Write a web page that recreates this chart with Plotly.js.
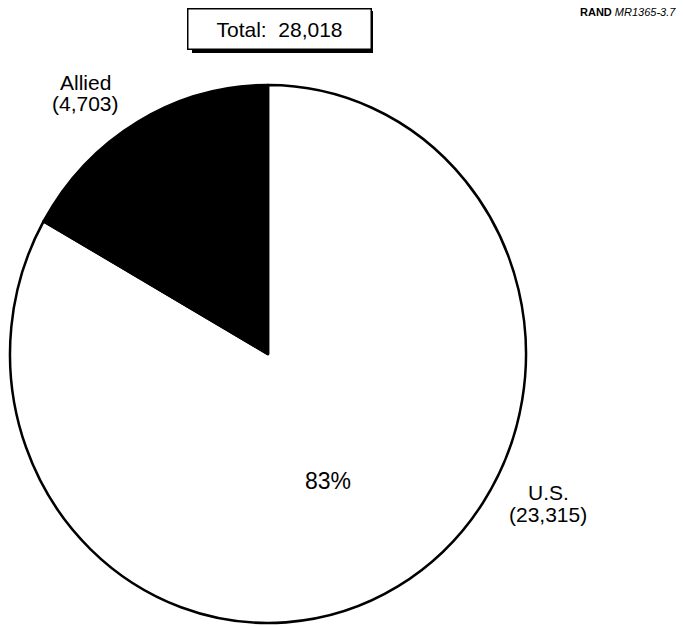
<!DOCTYPE html>
<html>
<head>
<meta charset="utf-8">
<script src="https://cdn.plot.ly/plotly-3.0.1.min.js"></script>
<style>
html,body{margin:0;padding:0;background:#fff;}
#chart{width:683px;height:626px;}
#chart .pielayer{transform:scaleY(1.0426);transform-origin:268px 354px;}
</style>
</head>
<body>
<div id="chart"></div>
<script>
const categories = ["U.S.", "Allied"];
const values = [23315, 4703];
const sliceColors = ["#ffffff", "#000000"];
const total = values.reduce((a, b) => a + b, 0);

const fmt = v => v.toLocaleString("en-US");
const pctUS = Math.round(values[0] / total * 100) + "%";

const W = 683, H = 626;
const cx = 268, cy = 354, r = 258;

const trace = {
  type: "pie",
  labels: categories,
  values: values,
  sort: false,
  direction: "clockwise",
  rotation: 0,
  marker: { colors: sliceColors, line: { color: "#000", width: 2.5 } },
  textinfo: "none",
  hoverinfo: "none",
  showlegend: false,
  domain: { x: [(cx - r) / W, (cx + r) / W], y: [1 - (cy + r) / H, 1 - (cy - r) / H] }
};

const font = "Liberation Sans, Arial, Helvetica, sans-serif";
function lbl(x, y, text, size) {
  return { xref: "paper", yref: "paper", x: x / W, y: 1 - y / H, xanchor: "center", yanchor: "middle",
    text: text, showarrow: false, font: { family: font, size: size, color: "#000" } };
}
const layout = {
  width: W, height: H,
  margin: { l: 0, r: 0, t: 0, b: 0 },
  paper_bgcolor: "#fff",
  plot_bgcolor: "#fff",
  showlegend: false,
  shapes: [
    { type: "rect", xref: "paper", yref: "paper",
      x0: 192 / W, x1: 373 / W, y0: 1 - 53 / H, y1: 1 - 11 / H,
      fillcolor: "#000", line: { width: 0 }, layer: "below" }
  ],
  annotations: [
    { xref: "paper", yref: "paper", x: 279 / W, y: 1 - 29 / H, xanchor: "center", yanchor: "middle",
      text: "Total:  " + fmt(total), showarrow: false,
      font: { family: font, size: 21, color: "#000" },
      bgcolor: "#fff", bordercolor: "#000", borderwidth: 1.5, borderpad: 8, width: 166 },
    { xref: "paper", yref: "paper", x: 678 / W, y: 1 - 12 / H, xanchor: "right", yanchor: "middle",
      text: "<b>RAND</b> <i>MR1365-3.7</i>", showarrow: false,
      font: { family: font, size: 11, color: "#000" } },
    lbl(85, 82, categories[1], 21),
    lbl(85, 104, "(" + fmt(values[1]) + ")", 21),
    lbl(548, 492, categories[0], 21),
    lbl(548, 514, "(" + fmt(values[0]) + ")", 21),
    lbl(328, 481, pctUS, 23)
  ]
};

Plotly.newPlot("chart", [trace], layout, { staticPlot: true, displayModeBar: false });
</script>
</body>
</html>
